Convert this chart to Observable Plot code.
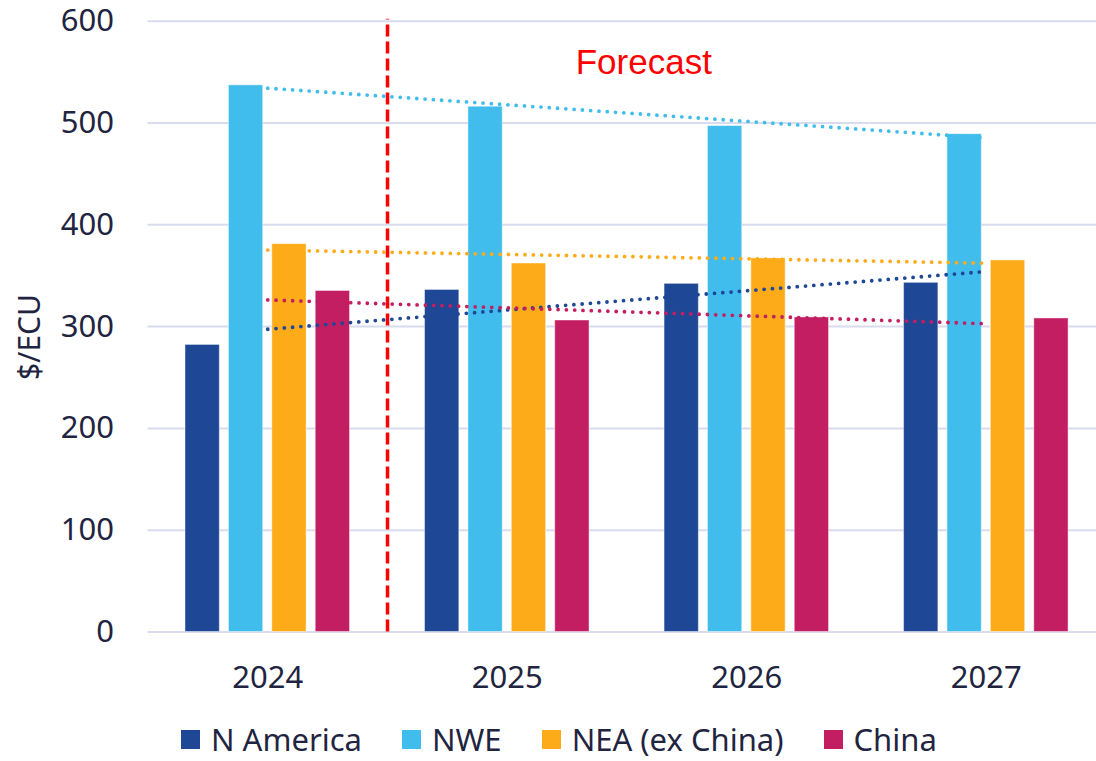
<!DOCTYPE html>
<html>
<head>
<meta charset="utf-8">
<script src="https://cdn.jsdelivr.net/npm/d3@7"></script>
<script src="https://cdn.jsdelivr.net/npm/@observablehq/plot@0.6"></script>
<style>
  html, body { margin: 0; padding: 0; background: #fff; overflow: hidden; }
  #wrap { position: relative; width: 1096px; height: 761px; font-family: "Noto Sans", sans-serif; color: #1f2540; }
  #chart svg { overflow: visible; }
  #legend { position: absolute; left: 181px; top: 724px; height: 31px; display: flex; align-items: center; font-size: 31px; line-height: 1; }
  #legend .item { display: flex; align-items: center; margin-right: 40px; }
  #legend .sw { width: 19px; height: 19px; margin-right: 11px; }
</style>
</head>
<body>
<div id="wrap">
  <div id="chart"></div>
  <div id="legend"></div>
</div>
<script>
// Price by region, $/ECU, actual 2024 and forecast 2025-2027
const years = [2024, 2025, 2026, 2027];
const seriesNames = ["N America", "NWE", "NEA (ex China)", "China"];
const nAmerica = [282, 336, 342, 343];
const nwe = [537, 516, 497, 489];
const nea = [381, 362, 367, 365];
const china = [335, 306, 309, 308];
const seriesColors = ["#1e4796", "#40bdec", "#fdab19", "#c31e62"];
const yTicks = [0, 100, 200, 300, 400, 500, 600];
const forecastStart = 2024.5;
const forecastLabel = "Forecast";
const yLabel = "$/ECU";

const seriesValues = [nAmerica, nwe, nea, china];
const table = seriesNames.flatMap((name, i) =>
  years.map((year, j) => ({ series: name, idx: i, year, value: seriesValues[i][j] }))
);

// clustered bars: offset each series within its year slot
const step = 0.1812, half = 0.0716;
const cx = d => d.year + (d.idx - 1.5) * step;

const chart = Plot.plot({
  width: 1096,
  height: 700,
  marginLeft: 147.5,
  marginRight: 0,
  marginTop: 20.7,
  marginBottom: 68.5,
  x: { domain: [2023.5, 2027.46] },
  y: { domain: [0, 600] },
  color: { domain: seriesNames, range: seriesColors },
  style: { fontFamily: "Noto Sans", fontSize: "31px", color: "#1f2540", background: "#fff", overflow: "visible" },
  marks: [
    Plot.gridY(yTicks, { stroke: "#d8dcee", strokeOpacity: 1, strokeWidth: 2 }),
    Plot.rect(table, {
      x1: d => cx(d) - half,
      x2: d => cx(d) + half,
      y1: 0,
      y2: "value",
      fill: "series",
      stroke: "white",
      strokeOpacity: 0.45,
      strokeWidth: 1
    }),
    Plot.ruleX([forecastStart], { y1: 0, y2: 602, stroke: "#ff0000", strokeWidth: 3.5, strokeDasharray: "12 5" }),
    Plot.linearRegressionY(table, {
      x: "year",
      y: "value",
      stroke: "series",
      ci: 0,
      strokeWidth: 3.8,
      strokeDasharray: "0 8.3",
      strokeLinecap: "round"
    }),
    Plot.text([forecastLabel], {
      x: 2025.57,
      y: 559.5,
      text: d => d,
      fill: "#ff0000",
      fontSize: 35,
      fontFamily: "Liberation Sans",
      textAnchor: "middle"
    }),
    Plot.axisY(yTicks, { tickSize: 0, tickPadding: 34, label: null }),
    Plot.axisX(years, { tickSize: 0, tickPadding: 33.5, tickFormat: "d", label: null })
  ]
});

d3.select(chart).append("text")
  .attr("transform", "translate(29,337) rotate(-90)")
  .attr("text-anchor", "middle")
  .attr("dy", "0.35em")
  .attr("fill", "#1f2540")
  .style("font-size", "30px")
  .text(yLabel);

document.getElementById("chart").appendChild(chart);

const legend = d3.select("#legend");
seriesNames.forEach((name, i) => {
  const item = legend.append("div").attr("class", "item");
  item.append("div").attr("class", "sw").style("background", seriesColors[i]);
  item.append("span").text(name);
});
</script>
</body>
</html>
